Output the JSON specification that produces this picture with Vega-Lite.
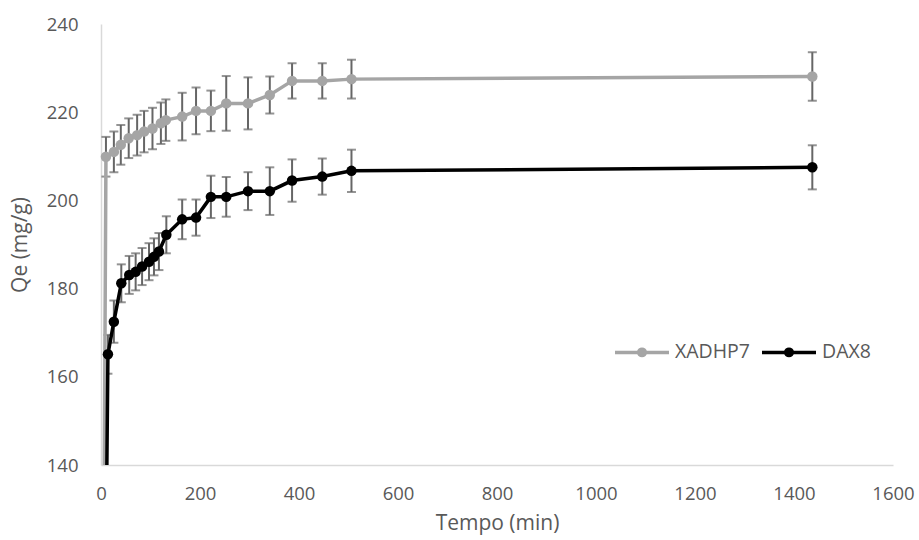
{
  "$schema": "https://vega.github.io/schema/vega-lite/v6.json",
  "width": 792,
  "height": 441,
  "autosize": {"type": "none"},
  "padding": {"left": 101, "top": 24, "right": 26, "bottom": 75},
  "background": "white",
  "config": {
    "view": {"stroke": null},
    "font": "Open Sans",
    "axis": {
      "grid": false,
      "ticks": false,
      "domainColor": "#d9d9d9",
      "domainWidth": 1.5,
      "labelColor": "#595959",
      "labelFont": "Open Sans",
      "labelFontSize": 18.5,
      "labelFlush": false,
      "titleColor": "#595959",
      "titleFont": "Open Sans",
      "titleFontSize": 21,
      "titleFontWeight": "normal"
    }
  },
  "data": {
    "values": [
      {"series": "XADHP7", "t": 0, "qe": 0, "err": 0},
      {"series": "XADHP7", "t": 10, "qe": 209.9, "err": 4.5},
      {"series": "XADHP7", "t": 26, "qe": 211.0, "err": 4.6},
      {"series": "XADHP7", "t": 40, "qe": 212.6, "err": 4.5},
      {"series": "XADHP7", "t": 56, "qe": 214.1, "err": 4.5},
      {"series": "XADHP7", "t": 73, "qe": 214.8, "err": 4.6},
      {"series": "XADHP7", "t": 87, "qe": 215.6, "err": 4.7},
      {"series": "XADHP7", "t": 104, "qe": 216.3, "err": 4.7},
      {"series": "XADHP7", "t": 121, "qe": 217.5, "err": 4.7},
      {"series": "XADHP7", "t": 131, "qe": 218.2, "err": 4.7},
      {"series": "XADHP7", "t": 164, "qe": 219.0, "err": 5.4},
      {"series": "XADHP7", "t": 192, "qe": 220.3, "err": 5.3},
      {"series": "XADHP7", "t": 222, "qe": 220.3, "err": 4.6},
      {"series": "XADHP7", "t": 253, "qe": 222.0, "err": 6.2},
      {"series": "XADHP7", "t": 297, "qe": 222.0, "err": 5.9},
      {"series": "XADHP7", "t": 341, "qe": 223.9, "err": 4.2},
      {"series": "XADHP7", "t": 386, "qe": 227.1, "err": 4.0},
      {"series": "XADHP7", "t": 447, "qe": 227.1, "err": 4.0},
      {"series": "XADHP7", "t": 506, "qe": 227.5, "err": 4.4},
      {"series": "XADHP7", "t": 1437, "qe": 228.1, "err": 5.5},
      {"series": "DAX8", "t": 0, "qe": 0, "err": 0},
      {"series": "DAX8", "t": 14, "qe": 165.1, "err": 4.4},
      {"series": "DAX8", "t": 26, "qe": 172.5, "err": 4.8},
      {"series": "DAX8", "t": 41, "qe": 181.2, "err": 4.3},
      {"series": "DAX8", "t": 57, "qe": 183.1, "err": 4.3},
      {"series": "DAX8", "t": 70, "qe": 183.8, "err": 4.2},
      {"series": "DAX8", "t": 83, "qe": 185.0, "err": 4.2},
      {"series": "DAX8", "t": 97, "qe": 186.1, "err": 4.2},
      {"series": "DAX8", "t": 107, "qe": 187.2, "err": 4.2},
      {"series": "DAX8", "t": 117, "qe": 188.4, "err": 4.2},
      {"series": "DAX8", "t": 132, "qe": 192.2, "err": 4.2},
      {"series": "DAX8", "t": 164, "qe": 195.7, "err": 4.5},
      {"series": "DAX8", "t": 192, "qe": 196.1, "err": 4.1},
      {"series": "DAX8", "t": 222, "qe": 200.8, "err": 4.8},
      {"series": "DAX8", "t": 253, "qe": 200.8, "err": 4.5},
      {"series": "DAX8", "t": 297, "qe": 202.1, "err": 4.3},
      {"series": "DAX8", "t": 341, "qe": 202.1, "err": 5.4},
      {"series": "DAX8", "t": 386, "qe": 204.5, "err": 4.8},
      {"series": "DAX8", "t": 447, "qe": 205.4, "err": 4.1},
      {"series": "DAX8", "t": 506, "qe": 206.7, "err": 4.8},
      {"series": "DAX8", "t": 1437, "qe": 207.5, "err": 5.0}
    ]
  },
  "encoding": {
    "x": {
      "field": "t", "type": "quantitative",
      "scale": {"domain": [0, 1600], "nice": false, "zero": false},
      "axis": {"values": [0, 200, 400, 600, 800, 1000, 1200, 1400, 1600], "format": "d", "title": "Tempo (min)", "labelPadding": 19, "titlePadding": 10}
    },
    "y": {
      "field": "qe", "type": "quantitative",
      "scale": {"domain": [140, 240], "nice": false, "zero": false},
      "axis": {"values": [140, 160, 180, 200, 220, 240], "format": "d", "title": "Qe (mg/g)", "labelPadding": 23, "titlePadding": 16}
    }
  },
  "layer": [
    {
      "transform": [{"filter": "datum.t > 0"}],
      "mark": {"type": "errorbar", "color": "#666666", "thickness": 2, "ticks": {"size": 9, "thickness": 2, "color": "#666666"}},
      "encoding": {
        "y": {"field": "qe", "type": "quantitative"},
        "yError": {"field": "err"},
        "detail": {"field": "series"}
      }
    },
    {
      "mark": {"type": "line", "strokeWidth": 3.5, "clip": true},
      "encoding": {
        "color": {
          "field": "series", "type": "nominal",
          "scale": {"domain": ["XADHP7", "DAX8"], "range": ["#a5a5a5", "#000000"]},
          "legend": {
            "title": null,
            "orient": "none",
            "legendX": 512,
            "legendY": 299,
            "direction": "horizontal",
            "symbolType": "M-1,0L1,0M-0.12,0A0.12,0.12,0,1,1,0.12,0A0.12,0.12,0,1,1,-0.12,0Z",
            "symbolSize": 2916,
            "symbolStrokeWidth": 3.5,
            "labelFont": "Open Sans",
            "labelFontSize": 19.5,
            "labelColor": "#595959",
            "labelOffset": 4,
            "columnPadding": 4,
            "encode": {
              "symbols": {"update": {"fill": {"scale": "color", "field": "value"}, "stroke": {"scale": "color", "field": "value"}, "opacity": {"value": 1}}}
            }
          }
        }
      }
    },
    {
      "transform": [{"filter": "datum.t > 0"}],
      "mark": {"type": "point", "filled": true, "size": 110, "opacity": 1, "shape": "circle"},
      "encoding": {
        "color": {"field": "series", "type": "nominal", "legend": null}
      }
    }
  ]
}
